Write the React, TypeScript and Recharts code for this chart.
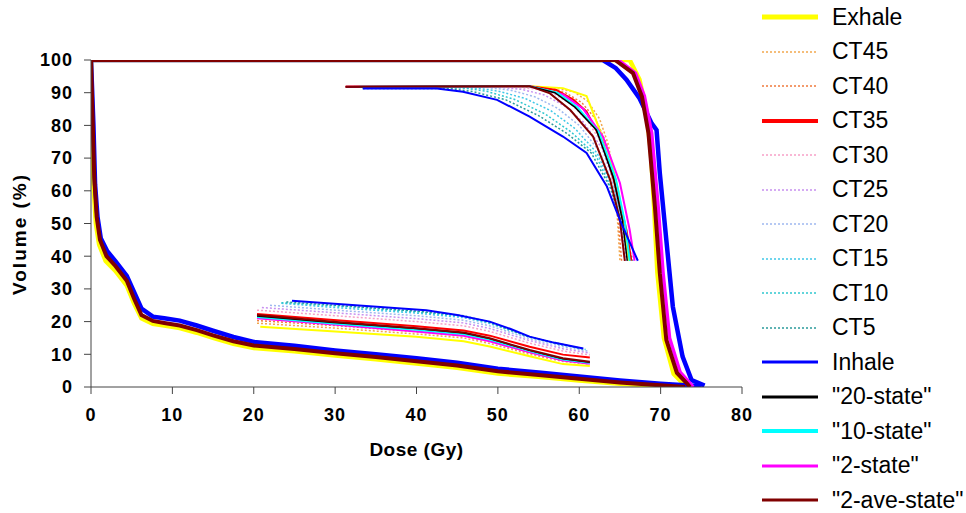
import React from 'react';
import { LineChart, Line, XAxis, YAxis } from 'recharts';

type Pt = [number, number];

const xTicks = [0, 10, 20, 30, 40, 50, 60, 70, 80];
const yTicks = [0, 10, 20, 30, 40, 50, 60, 70, 80, 90, 100];

// legend order
const seriesNames = ['Exhale', 'CT45', 'CT40', 'CT35', 'CT30', 'CT25', 'CT20', 'CT15', 'CT10', 'CT5', 'Inhale', '"20-state"', '"10-state"', '"2-state"', '"2-ave-state"'];
const seriesColors = ['#ffff00', '#f2a84e', '#f07a3c', '#ff0000', '#f7a0c8', '#c890f0', '#9fb8f0', '#40c8e8', '#30c8d0', '#2a9a9a', '#0000ff', '#000000', '#00ffff', '#ff00ff', '#800000'];
const seriesDotted = [false, true, true, false, true, true, true, true, true, true, false, false, false, false, false];
const legendWidths = [5, 1.5, 1.5, 4, 1.5, 1.5, 1.5, 1.5, 1.5, 1.5, 3, 3, 4, 3, 3];

// target (PTV) curves, full scale
const exhaleTarget: Pt[] = [[0, 100], [66.2, 100], [67.4, 94], [68.2, 85], [68.8, 72], [69.2, 55], [69.6, 35], [70.4, 15], [71.6, 4], [72.8, 1], [73.2, 0]];
const inhaleTarget: Pt[] = [[0, 100], [62.9, 100], [64.5, 97.5], [65.8, 94], [67.4, 88.3], [68.9, 80.6], [69.5, 78.6], [69.9, 65.4], [70.7, 45], [71.5, 24.6], [72.7, 9.3], [73.8, 2.1], [75.4, 0.4]];
const twoStateTarget: Pt[] = [[0, 100], [64.8, 100], [66.9, 96], [68, 89], [68.9, 77.7], [69.7, 55], [70.3, 35], [71.1, 15], [72.4, 4.5], [73.6, 1.2], [74, 0]];
const twoAveTarget: Pt[] = [[0, 100], [64.4, 100], [66.6, 96], [67.7, 88.8], [68.5, 77.7], [69.3, 55.1], [69.9, 34.8], [70.7, 14.4], [72, 4.3], [73.2, 1.2], [73.6, 0]];

// organ curves, full scale
const exhaleOrgan: Pt[] = [[0, 100], [0.1, 80], [0.3, 62], [0.6, 50], [1, 43.5], [1.8, 38.5], [3, 35.5], [4.4, 31], [5.3, 25.5], [6.2, 21], [7.6, 19.3], [9, 18.8], [10.9, 18], [13, 16.6], [15, 15], [17.5, 13.2], [20, 11.9], [25, 10.9], [30, 9.6], [35, 8.5], [40, 7.2], [45, 5.9], [50, 4.1], [55, 3.1], [60, 2], [65, 1], [70, 0.3], [72, 0]];
const inhaleOrgan: Pt[] = [[0, 100], [0.3, 80], [0.5, 62], [0.8, 52], [1.2, 45.5], [2, 41.5], [3, 38.5], [4.4, 34], [5.3, 29], [6.2, 24], [7.6, 21.5], [9, 21], [10.9, 20.3], [13, 18.8], [15, 17.2], [17.5, 15.3], [20, 13.8], [25, 12.6], [30, 11.2], [35, 10], [40, 8.8], [45, 7.4], [50, 5.6], [55, 4.4], [60, 3.2], [65, 2], [70, 1], [75, 0.2]];
const twoAveOrgan: Pt[] = [[0, 100], [0.2, 82], [0.4, 64], [0.7, 52], [1.1, 45], [1.9, 40], [3, 37], [4.4, 32.5], [5.3, 27], [6.2, 22], [7.6, 20.2], [9, 19.6], [10.9, 18.8], [13, 17.4], [15, 15.8], [17.5, 14], [20, 12.7], [25, 11.6], [30, 10.3], [35, 9.2], [40, 7.9], [45, 6.6], [50, 4.8], [55, 3.7], [60, 2.5], [65, 1.4], [70, 0.5], [73, 0]];

// upper inset (magnified target shoulder)
const upExhale: Pt[] = [[31.3, 91.8], [53.9, 92], [58, 91.4], [60.9, 89], [63.8, 70.4], [64.8, 60], [65.5, 50], [66.1, 38.6]];
const upCT45: Pt[] = [[31.3, 91.8], [54, 91.8], [57, 91.4], [59.3, 90.3], [61, 87.5], [62.5, 82], [63.6, 74], [64.3, 63], [64.7, 51], [65, 38.6]];
const upCT40: Pt[] = [[31.3, 91.8], [53, 91.8], [56, 91.3], [58.3, 90], [60.3, 87], [62, 82], [63.4, 74], [64.3, 63], [64.8, 51], [65.2, 38.6]];
const upCT35: Pt[] = [[31.3, 91.8], [53.9, 92], [57.2, 90.8], [59.3, 87.8], [60.9, 84.2], [62.9, 74.6], [64.6, 60.2], [65.8, 48], [66.4, 38.6]];
const upCT30: Pt[] = [[32, 91.7], [51.5, 91.7], [54.5, 91.2], [56.8, 89.8], [59, 86.5], [61, 81.5], [63, 73.5], [64.3, 62], [65, 50], [65.6, 38.6]];
const upCT25: Pt[] = [[32, 91.7], [50, 91.7], [53, 91], [55.7, 89.3], [58.2, 86], [60.5, 81], [62.8, 73], [64.4, 61.5], [65.1, 50], [65.8, 38.6]];
const upCT20: Pt[] = [[33.4, 91.6], [48.5, 91.6], [51.5, 90.8], [54.5, 88.8], [57.3, 85.3], [60, 80], [62.5, 72], [64.3, 61], [65.2, 49.5], [66, 38.6]];
const upCT15: Pt[] = [[33.4, 91.5], [47, 91.5], [50, 90.5], [53.3, 88.3], [56.5, 84.5], [59.5, 79], [62.2, 71.5], [64.2, 60.5], [65.3, 49.5], [66.2, 38.6]];
const upCT10: Pt[] = [[33.4, 91.5], [45.5, 91.5], [48.5, 90.5], [52, 88], [55.8, 83.5], [59, 78], [62, 71], [64, 60.5], [65.3, 49.5], [66.4, 38.6]];
const upCT5: Pt[] = [[33.4, 91.3], [44, 91.3], [47, 90.3], [51, 87.8], [55, 83], [58.5, 77.5], [61.5, 71.5], [63.8, 61], [65.2, 50], [66.6, 38.6]];
const upInhale: Pt[] = [[33.4, 91.3], [42.5, 91.3], [45.7, 90.3], [49.9, 87.8], [53.9, 82.7], [58, 76.6], [60.9, 71.6], [63.4, 61.3], [65, 51], [67.2, 38.6]];
const up20: Pt[] = [[31.3, 91.8], [53.9, 92], [57, 90], [59.5, 85.5], [62.1, 78.6], [64.2, 64], [65.3, 51], [65.9, 38.6]];
const up10: Pt[] = [[33, 91.8], [53.9, 92], [57.3, 90], [59.8, 85.5], [62.4, 78], [64.5, 63.5], [65.6, 50.5], [66.2, 38.6]];
const up2: Pt[] = [[31.3, 91.8], [53.9, 92], [58, 89.5], [60.5, 85], [62.9, 76.6], [65, 62.4], [66.2, 48], [66.8, 38.6]];
const up2ave: Pt[] = [[31.3, 91.8], [53.9, 92], [56.4, 89.8], [58.9, 84.7], [61.7, 76.6], [63.8, 63.3], [65, 51], [65.6, 38.6]];

// lower inset (magnified organ tail)
const loExhale: Pt[] = [[20.8, 18.4], [30, 17], [40, 15.4], [45.8, 14], [49, 12.4], [53.9, 9.4], [58, 7], [61.3, 6.4]];
const loCT45: Pt[] = [[20.4, 19.5], [30, 18], [40, 16.2], [45.8, 15], [49, 13.3], [53.9, 10], [58, 7.8], [61.3, 7]];
const loCT40: Pt[] = [[20.4, 20.3], [30, 18.8], [40, 16.9], [45.8, 15.6], [49, 13.9], [53.9, 10.5], [58, 8.2], [61.3, 7.3]];
const loCT35: Pt[] = [[20.4, 22.3], [29.4, 20.6], [40, 18.6], [45.8, 17.3], [49, 15.7], [53.9, 12.3], [58, 9.9], [61.3, 9]];
const loCT30: Pt[] = [[20.4, 23.5], [30, 21.8], [40, 20], [45.8, 18.7], [49, 17], [53.9, 13.4], [58, 11], [61.3, 9.8]];
const loCT25: Pt[] = [[21, 24.3], [30, 22.7], [40, 20.9], [45.8, 19.6], [49, 17.9], [53.9, 14.2], [58, 11.7], [61.3, 10.4]];
const loCT20: Pt[] = [[22, 25], [30, 23.5], [40, 21.8], [45.8, 20.4], [49, 18.7], [53.9, 14.8], [58, 12.3], [61, 11]];
const loCT15: Pt[] = [[23.4, 25.6], [30, 24.3], [40, 22.6], [45.8, 21.2], [49, 19.4], [53.9, 15.2], [58, 12.8], [60.8, 11.5]];
const loCT10: Pt[] = [[23.4, 25.8], [30, 24.8], [40, 23], [45.8, 21.6], [49, 19.7], [53.9, 15.3], [58, 12.9], [60.6, 11.6]];
const loCT5: Pt[] = [[24, 26], [30, 25], [40, 23.2], [45.8, 21.8], [49, 19.8], [53.9, 15.3], [58, 13], [60.5, 11.7]];
const loInhale: Pt[] = [[24.7, 26.4], [41.2, 23.5], [45, 22], [49, 20], [51.5, 17.8], [53.9, 15.4], [57, 13.5], [60.5, 11.8]];
const lo20: Pt[] = [[20.4, 21.7], [29.4, 19.8], [40, 17.9], [45.8, 16.5], [49, 14.8], [53.9, 11.2], [58, 8.6], [61.3, 7.6]];
const lo10: Pt[] = [[20.4, 21.4], [29.4, 19.5], [40, 17.5], [45.8, 16.2], [49, 14.5], [53.9, 11], [58, 8.4], [61.3, 7.4]];
const lo2: Pt[] = [[20.4, 21], [29.4, 19.2], [40, 17], [45.8, 15.7], [49, 14], [53.9, 10.6], [58, 8.1], [61.3, 7.1]];
const lo2ave: Pt[] = [[20.4, 22], [29.4, 20], [40, 18], [45.8, 16.7], [49, 14.9], [53.9, 11.3], [58, 8.8], [61.3, 7.7]];

const upperSets = [upExhale, upCT45, upCT40, upCT35, upCT30, upCT25, upCT20, upCT15, upCT10, upCT5, upInhale, up20, up10, up2, up2ave];
const lowerSets = [loExhale, loCT45, loCT40, loCT35, loCT30, loCT25, loCT20, loCT15, loCT10, loCT5, loInhale, lo20, lo10, lo2, lo2ave];

// full-scale curves: [series index, data, width]
const mainCurves: [number, Pt[], number][] = [
  [0, exhaleTarget, 4.5], [0, exhaleOrgan, 4.5],
  [10, inhaleTarget, 4.5], [10, inhaleOrgan, 4.5],
  [13, twoStateTarget, 3.5],
  [14, twoAveTarget, 4], [14, twoAveOrgan, 4],
];

// inset draw order: dotted first, solids on top
const insetOrder = [1, 2, 4, 5, 6, 7, 8, 9, 0, 3, 13, 12, 11, 14, 10];

const toRows = (pts: Pt[]) => pts.map(([d, v]) => ({ d, v }));

const FONT = 'Liberation Sans, Arial, sans-serif';
const tickStyle = { fill: '#000', fontSize: 18, fontWeight: 'bold', fontFamily: FONT, letterSpacing: 1 };

const Legend = () => (
  <div style={{ position: 'absolute', left: 762, top: 0, fontFamily: FONT, fontSize: 23, color: '#000' }}>
    {seriesNames.map((name, i) => (
      <div key={name} style={{ height: 34.5, display: 'flex', alignItems: 'center' }}>
        <svg width={56} height={10}>
          <line x1={0} y1={5} x2={56} y2={5} stroke={seriesColors[i]} strokeWidth={legendWidths[i]}
            strokeDasharray={seriesDotted[i] ? '2 2' : undefined} />
        </svg>
        <span style={{ marginLeft: 14, whiteSpace: 'nowrap' }}>{name}</span>
      </div>
    ))}
  </div>
);

const VolumeLabel = () => (
  <text x={19} y={234} transform="rotate(-90 19 234)" textAnchor="middle" dominantBaseline="central"
    fill="#000" fontSize={19} fontWeight="bold" fontFamily={FONT} letterSpacing={2}>
    Volume (%)
  </text>
);

export default function App() {
  const lines: React.ReactNode[] = [];
  mainCurves.forEach(([s, pts, w], k) => {
    lines.push(
      <Line key={`m${k}`} data={toRows(pts)} dataKey="v" type="linear" stroke={seriesColors[s]} strokeWidth={w}
        dot={false} activeDot={false} isAnimationActive={false} legendType="none" />
    );
  });
  [upperSets, lowerSets].forEach((sets, g) => {
    insetOrder.forEach((s) => {
      lines.push(
        <Line key={`i${g}-${s}`} data={toRows(sets[s])} dataKey="v" type="linear" stroke={seriesColors[s]}
          strokeWidth={seriesDotted[s] ? 1.5 : s === 11 ? 1.5 : 2}
          strokeDasharray={seriesDotted[s] ? '2 2' : undefined}
          dot={false} activeDot={false} isAnimationActive={false} legendType="none" />
      );
    });
  });

  return (
    <div style={{ position: 'absolute', left: 0, top: 0, width: 966, height: 513, background: '#fff' }}>
      <LineChart width={966} height={513} margin={{ top: 60, right: 224, bottom: 0, left: 0 }}>
        <XAxis dataKey="d" type="number" domain={[0, 80]} ticks={xTicks} allowDataOverflow
          height={126} stroke="#444" tickSize={7} tickMargin={14} tick={tickStyle}
          label={{ value: 'Dose (Gy)', position: 'insideBottom', offset: 57, fill: '#000', fontSize: 19, fontWeight: 'bold', fontFamily: FONT, letterSpacing: 0.5 }} />
        <YAxis type="number" domain={[0, 100]} ticks={yTicks} allowDataOverflow
          width={91} stroke="#444" tickSize={7} tickMargin={11} tick={tickStyle}
          label={{ content: () => <VolumeLabel /> }} />
        {lines}
      </LineChart>
      <Legend />
    </div>
  );
}
